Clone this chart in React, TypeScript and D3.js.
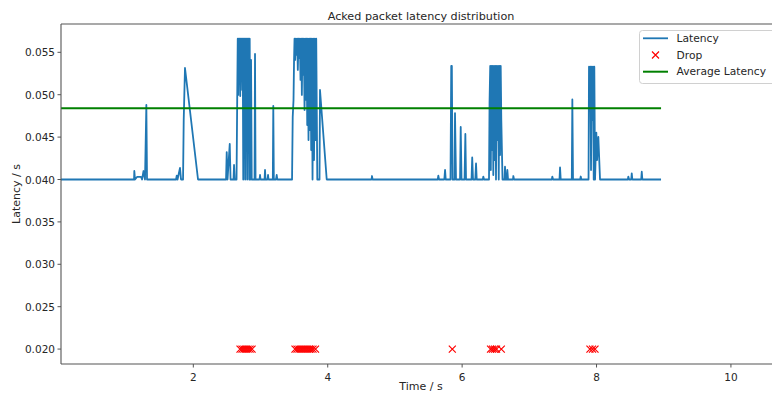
import React from "react";
import * as d3 from "d3";

// ---------- data ----------
const segmentStart: [number, number][] = [
  [0.031, 0.04], [1.118, 0.04], [1.122, 0.041], [1.132, 0.04], [1.162, 0.0403], [1.222, 0.0403],
  [1.237, 0.04], [1.259, 0.041], [1.281, 0.04], [1.301, 0.04879], [1.311, 0.04], [1.743, 0.04],
  [1.753, 0.04045], [1.765, 0.04], [1.802, 0.04136], [1.817, 0.04], [1.847, 0.04], [1.857, 0.04702],
  [1.876, 0.05315], [2.07, 0.04],
];

const burstA: [number, number][] = [
  [2.487, 0.04], [2.497, 0.04324], [2.509, 0.04], [2.542, 0.04419], [2.554, 0.04], [2.598, 0.04],
  [2.606, 0.04171], [2.616, 0.04], [2.643, 0.04], [2.653, 0.04938], [2.661, 0.0566], [2.668, 0.04997],
  [2.676, 0.0566], [2.683, 0.05292], [2.69, 0.0566], [2.698, 0.04985], [2.705, 0.0566], [2.713, 0.05339],
  [2.72, 0.0566], [2.728, 0.05056], [2.735, 0.0566], [2.743, 0.04], [2.75, 0.0566], [2.757, 0.04348],
  [2.765, 0.0566], [2.772, 0.04], [2.78, 0.0566], [2.787, 0.04702], [2.795, 0.0566], [2.802, 0.04],
  [2.81, 0.0566], [2.817, 0.04466], [2.824, 0.0566], [2.832, 0.04], [2.839, 0.0566], [2.848, 0.04],
  [2.859, 0.0541], [2.869, 0.04], [2.911, 0.04], [2.918, 0.0548], [2.926, 0.04], [2.985, 0.04],
  [2.993, 0.04053], [3.0, 0.04], [3.06, 0.04], [3.067, 0.04112], [3.074, 0.04], [3.104, 0.04],
  [3.112, 0.04053], [3.119, 0.04], [3.183, 0.04], [3.19, 0.04867], [3.198, 0.04], [3.231, 0.04],
  [3.241, 0.04053], [3.25, 0.04],
];

const burstB: [number, number][] = [
  [3.469, 0.04], [3.479, 0.04737], [3.491, 0.04938], [3.499, 0.0541], [3.506, 0.0566], [3.516, 0.0541],
  [3.525, 0.0566], [3.536, 0.05469], [3.546, 0.0566], [3.555, 0.05292], [3.565, 0.0566], [3.576, 0.05433],
  [3.585, 0.0566], [3.595, 0.05174], [3.606, 0.0566], [3.615, 0.04997], [3.625, 0.0566], [3.635, 0.05233],
  [3.644, 0.0566], [3.655, 0.0482], [3.665, 0.0566], [3.674, 0.04938], [3.685, 0.0566], [3.695, 0.04643],
  [3.704, 0.0566], [3.714, 0.04466], [3.725, 0.0566], [3.734, 0.04584], [3.744, 0.0566], [3.754, 0.04348],
  [3.763, 0.0566], [3.774, 0.04], [3.784, 0.0566], [3.796, 0.0423], [3.808, 0.0566], [3.818, 0.04466],
  [3.829, 0.0566], [3.845, 0.04], [3.878, 0.04], [3.885, 0.05056], [3.985, 0.04], [4.652, 0.04],
  [4.659, 0.04041], [4.667, 0.04],
];

const burstC: [number, number][] = [
  [5.637, 0.04], [5.646, 0.04045], [5.656, 0.04], [5.735, 0.04], [5.746, 0.04112], [5.756, 0.04],
  [5.827, 0.04], [5.838, 0.05339], [5.847, 0.05339], [5.857, 0.04], [5.887, 0.04], [5.894, 0.04784],
  [5.909, 0.04], [5.969, 0.04], [5.979, 0.04619], [5.991, 0.04], [6.036, 0.04], [6.048, 0.04537],
  [6.058, 0.04], [6.14, 0.04], [6.15, 0.0426], [6.162, 0.04], [6.196, 0.04], [6.207, 0.04189],
  [6.217, 0.04], [6.308, 0.04], [6.315, 0.04035], [6.326, 0.04], [6.4, 0.04], [6.408, 0.04914],
  [6.418, 0.05339], [6.427, 0.04112], [6.435, 0.05339], [6.445, 0.04348], [6.455, 0.05339], [6.464, 0.04053],
  [6.475, 0.05339], [6.485, 0.0423], [6.494, 0.05339], [6.504, 0.04], [6.515, 0.05339], [6.524, 0.04466],
  [6.534, 0.05339], [6.545, 0.04], [6.554, 0.05339], [6.564, 0.04289], [6.574, 0.05339], [6.583, 0.04702],
  [6.601, 0.04], [6.631, 0.04], [6.638, 0.04151], [6.649, 0.04], [6.665, 0.04], [6.673, 0.04112],
  [6.683, 0.04], [6.757, 0.04], [6.762, 0.04041], [6.772, 0.04],
];

const burstD: [number, number][] = [
  [7.335, 0.04], [7.342, 0.04035], [7.353, 0.04], [7.449, 0.04], [7.457, 0.04142], [7.467, 0.04],
  [7.632, 0.04], [7.64, 0.04944], [7.65, 0.04], [7.757, 0.04], [7.765, 0.04035], [7.774, 0.04],
  [7.881, 0.04], [7.888, 0.05331], [7.899, 0.04938], [7.908, 0.05331], [7.918, 0.04112], [7.929, 0.05331],
  [7.938, 0.04702], [7.948, 0.05331], [7.958, 0.04], [7.967, 0.05331], [7.978, 0.04], [7.997, 0.04554],
  [8.008, 0.0423], [8.027, 0.04501], [8.052, 0.04], [8.466, 0.04], [8.473, 0.04035], [8.484, 0.04],
  [8.517, 0.04], [8.524, 0.04073], [8.533, 0.04], [8.665, 0.04], [8.673, 0.04092], [8.682, 0.04],
  [8.96, 0.04],
];

const dropTimes: number[] = [
  2.695, 2.725, 2.754, 2.784, 2.814, 2.844, 2.874,
  3.513, 3.543, 3.573, 3.603, 3.632, 3.662, 3.692, 3.722, 3.751, 3.781, 3.818,
  5.854,
  6.423, 6.452, 6.482, 6.512, 6.583,
  7.902, 7.94, 7.977,
];
const dropValue = 0.02;
const averageLatency = 0.0484;

const xTicks = [2, 4, 6, 8, 10];
const yTicks = [0.02, 0.025, 0.03, 0.035, 0.04, 0.045, 0.05, 0.055];
const legendLabels = ["Latency", "Drop", "Average Latency"];

// ---------- layout ----------
const W = 772;
const H = 393;
const L = 61, R = 781, T = 24, B = 364;
const FONT = "DejaVu Sans, sans-serif";
const TEXT = "#262626";
const BLUE = "#1f77b4";

export default function App() {
  const x = d3.scaleLinear().domain([0.031, 10.745]).range([L, R]);
  const y = d3.scaleLinear().domain([0.01824, 0.05834]).range([B, T]);
  const latency = [...segmentStart, ...burstA, ...burstB, ...burstC, ...burstD];
  const line = d3
    .line<[number, number]>()
    .x((d) => x(d[0]))
    .y((d) => y(d[1]));

  const xMark = (cx: number, cy: number, s: number, key: any) => (
    <path
      key={key}
      d={`M${cx - s},${cy - s}L${cx + s},${cy + s}M${cx - s},${cy + s}L${cx + s},${cy - s}`}
      stroke="red"
      strokeWidth={1.2}
      fill="none"
    />
  );

  const legendY = [38.3, 55, 71.7];

  return (
    <div>
      <style>{`body{margin:0;}`}</style>
      <svg width={W} height={H} style={{ display: "block" }} fontFamily={FONT}>
        <rect x={0} y={0} width={W} height={H} fill="white" />
        {/* latency line */}
        <path d={line(latency) || ""} fill="none" stroke={BLUE} strokeWidth={1.8} strokeLinejoin="round" />
        {/* drops */}
        {dropTimes.map((t, i) => xMark(x(t), y(dropValue), 3.5, i))}
        {/* average */}
        <line x1={x(0.031)} x2={x(8.96)} y1={y(averageLatency)} y2={y(averageLatency)} stroke="#008000" strokeWidth={2} />

        {/* spines */}
        <g stroke="#555" strokeWidth={1.1} fill="none">
          <line x1={L} x2={R} y1={T} y2={T} />
          <line x1={L} x2={R} y1={B} y2={B} />
          <line x1={L} x2={L} y1={T} y2={B} />
          <line x1={R} x2={R} y1={T} y2={B} />
        </g>

        {/* x ticks */}
        {xTicks.map((t) => (
          <g key={t}>
            <line x1={x(t)} x2={x(t)} y1={B} y2={B + 3.5} stroke="#555" strokeWidth={1} />
            <text x={x(t)} y={B + 9} fontSize={10.5} fill={TEXT} textAnchor="middle" dominantBaseline="hanging">
              {t}
            </text>
          </g>
        ))}
        {/* y ticks */}
        {yTicks.map((t) => (
          <g key={t}>
            <line x1={L - 3.5} x2={L} y1={y(t)} y2={y(t)} stroke="#555" strokeWidth={1} />
            <text x={L - 6} y={y(t)} fontSize={10.5} fill={TEXT} textAnchor="end" dominantBaseline="central">
              {t.toFixed(3)}
            </text>
          </g>
        ))}

        {/* labels */}
        <text x={(L + R) / 2} y={16} fontSize={11.2} fill={TEXT} textAnchor="middle" dominantBaseline="central">
          Acked packet latency distribution
        </text>
        <text x={(L + R) / 2} y={386} fontSize={11} fill={TEXT} textAnchor="middle" dominantBaseline="central">
          Time / s
        </text>
        <text
          transform={`translate(16,${(T + B) / 2}) rotate(-90)`}
          fontSize={11}
          fill={TEXT}
          textAnchor="middle"
          dominantBaseline="central"
        >
          Latency / s
        </text>

        {/* legend */}
        <rect x={639.5} y={30.5} width={137} height={53} rx={3} fill="white" fillOpacity={0.8} stroke="#d0d0d0" strokeWidth={1} />
        <line x1={643} x2={668} y1={legendY[0]} y2={legendY[0]} stroke={BLUE} strokeWidth={1.8} />
        {xMark(655.5, legendY[1], 3.5, "lg")}
        <line x1={643} x2={668} y1={legendY[2]} y2={legendY[2]} stroke="#008000" strokeWidth={2} />
        {legendLabels.map((s, i) => (
          <text key={s} x={676.5} y={legendY[i]} fontSize={10.7} fill={TEXT} dominantBaseline="central">
            {s}
          </text>
        ))}
      </svg>
    </div>
  );
}
